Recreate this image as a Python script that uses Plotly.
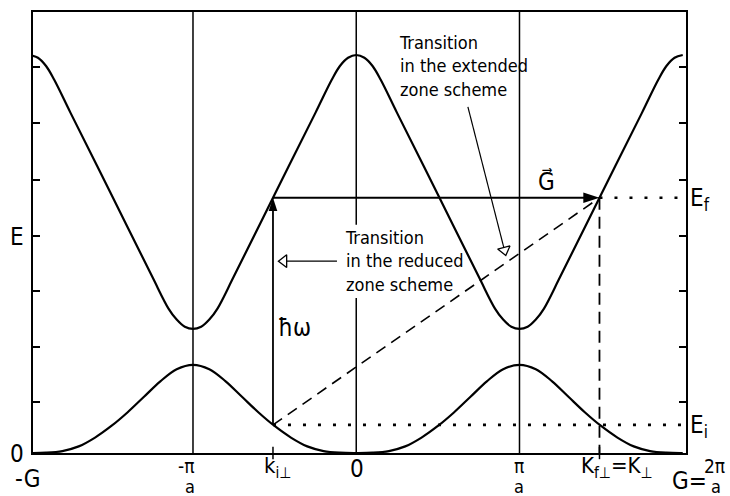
import plotly.graph_objects as go

FONT = "DejaVu Sans Condensed, DejaVu Sans, sans-serif"
INK = "black"

# Axis ranges: wave vector in units of pi/a, energy in arbitrary units
K_MIN, K_MAX = -1.98, 2.02
E_MIN, E_MAX = 0.0, 8.0

# Upper band E(k), extended zone scheme
K_UPPER = [-2.0, -1.95, -1.9, -1.85, -1.75, -1.5, -1.25, -1.15, -1.1, -1.05, -1.0,
           -0.95, -0.9, -0.85, -0.75, -0.5, -0.25, -0.15, -0.1, -0.05, 0.0,
           0.05, 0.1, 0.15, 0.25, 0.5, 0.75, 0.85, 0.9, 0.95, 1.0,
           1.05, 1.1, 1.15, 1.25, 1.5, 1.75, 1.85, 1.9, 1.95, 2.0]
E_UPPER = [7.22, 7.17, 7.02, 6.77, 6.17, 4.69, 3.20, 2.62, 2.42, 2.29, 2.25,
           2.29, 2.42, 2.62, 3.20, 4.69, 6.17, 6.77, 7.02, 7.17, 7.22,
           7.17, 7.02, 6.77, 6.17, 4.69, 3.20, 2.62, 2.42, 2.29, 2.25,
           2.29, 2.42, 2.62, 3.20, 4.69, 6.17, 6.77, 7.02, 7.17, 7.22]

# Lower band E(k)
K_LOWER = [-2.0, -1.9, -1.8, -1.7, -1.6, -1.5, -1.4, -1.3, -1.2, -1.1, -1.0,
           -0.9, -0.8, -0.7, -0.6, -0.5, -0.4, -0.3, -0.2, -0.1, 0.0,
           0.1, 0.2, 0.3, 0.4, 0.5, 0.6, 0.7, 0.8, 0.9, 1.0,
           1.1, 1.2, 1.3, 1.4, 1.5, 1.6, 1.7, 1.8, 1.9, 2.0]
E_LOWER = [0.0, 0.005, 0.035, 0.12, 0.28, 0.49, 0.74, 1.02, 1.30, 1.52, 1.60,
           1.52, 1.30, 1.02, 0.74, 0.49, 0.28, 0.12, 0.035, 0.005, 0.0,
           0.005, 0.035, 0.12, 0.28, 0.49, 0.74, 1.02, 1.30, 1.52, 1.60,
           1.52, 1.30, 1.02, 0.74, 0.49, 0.28, 0.12, 0.035, 0.005, 0.0]

# Initial and final states of the transition
K_I, K_F = -0.51, 1.49
E_I, E_F = 0.51, 4.63

# Zone boundaries and centre; the centre line is broken behind the callout text
ZONE_LINES = [-1.0, 0.0, 1.0]
CENTRE_GAP = (2.81, 4.14)

# Energy-axis ticks and labels
E_TICKS = [0.93, 1.93, 2.93, 3.93, 4.95, 5.98, 7.0]
E_LABEL_VALS = [0.0, 3.93]
E_LABEL_TEXT = ["0", "E"]

# Wave-vector labels: main line and optional denominator
K_TICKS = [-1.0, K_I, 0.0, 1.0, K_F, 2.0]
K_TICK_TEXT = ["-π", "k<sub>i⊥</sub>", "0", "π", "K<sub>f⊥</sub>=K<sub>⊥</sub>", "G="]
K_TICK_DENOM = ["a", None, None, "a", None, None]
K_TICK_STYLE = [dict(size=19, dx=-7, dy=-13, ddx=-3), dict(size=22, dx=5, dy=-14),
                dict(size=24, dx=1, dy=-16), dict(size=19, dx=0, dy=-13, ddx=0),
                dict(size=22, dx=18, dy=-14), dict(size=24, dx=7, dy=-28)]
G_FRACTION = ("2π", "a")
LEFT_EDGE_LABEL = "-G"

fig = go.Figure()

# Zone lines
zx, zy = [], []
for z in ZONE_LINES:
    if z == 0.0:
        zx += [z, z, None, z, z, None]
        zy += [E_MIN, CENTRE_GAP[0], None, CENTRE_GAP[1], E_MAX, None]
    else:
        zx += [z, z, None]
        zy += [E_MIN, E_MAX, None]
fig.add_trace(go.Scatter(x=zx, y=zy, mode="lines", line=dict(color=INK, width=1.5),
                         hoverinfo="skip"))

# Bands
fig.add_trace(go.Scatter(x=K_UPPER, y=E_UPPER, mode="lines",
                         line=dict(color=INK, width=2.2, shape="spline", smoothing=1.0)))
fig.add_trace(go.Scatter(x=K_LOWER, y=E_LOWER, mode="lines",
                         line=dict(color=INK, width=2.2, shape="spline", smoothing=1.0)))

# Transition in the extended zone scheme (dashed)
fig.add_trace(go.Scatter(x=[K_I, K_F], y=[E_I, E_F], mode="lines",
                         line=dict(color=INK, width=1.6, dash="11px,7px")))
fig.add_trace(go.Scatter(x=[K_F, K_F], y=[E_F, E_MIN], mode="lines",
                         line=dict(color=INK, width=1.8, dash="12px,7px")))

# Energy levels (dotted)
for k0, e0 in [(K_F, E_F), (K_I, E_I)]:
    fig.add_trace(go.Scatter(x=[k0, K_MAX], y=[e0, e0], mode="lines",
                             line=dict(color=INK, width=2.6, dash="3px,12px")))

# Photon energy (vertical) and reciprocal lattice vector (horizontal) arrows
fig.add_trace(go.Scatter(x=[K_I, K_I], y=[E_I, E_F - 0.1], mode="lines",
                         line=dict(color=INK, width=1.8)))
fig.add_trace(go.Scatter(x=[K_I, K_F - 0.05], y=[E_F, E_F], mode="lines",
                         line=dict(color=INK, width=2.0)))
fig.add_trace(go.Scatter(x=[K_I], y=[E_F], mode="markers",
                         marker=dict(symbol="arrow", size=14, angle=0, color=INK,
                                     line=dict(width=0))))
fig.add_trace(go.Scatter(x=[K_F], y=[E_F], mode="markers",
                         marker=dict(symbol="arrow", size=17, angle=90, color=INK,
                                     line=dict(width=0))))

# Callout pointers with open heads
fig.add_trace(go.Scatter(x=[-0.118, -0.443], y=[3.48, 3.48], mode="lines",
                         line=dict(color=INK, width=1.2)))
fig.add_trace(go.Scatter(x=[0.684, 0.908], y=[6.28, 3.68], mode="lines",
                         line=dict(color=INK, width=1.2)))
fig.add_trace(go.Scatter(x=[-0.443], y=[3.48], mode="markers",
                         marker=dict(symbol="triangle-left", size=11, color="white",
                                     line=dict(color=INK, width=1.3))))
fig.add_trace(go.Scatter(x=[0.908], y=[3.68], mode="markers",
                         marker=dict(symbol="triangle-down", size=11, color="white", angle=-14,
                                     line=dict(color=INK, width=1.3))))

annotations = []


def label(text, size, **kw):
    base = dict(text=text, showarrow=False, xanchor="center", yanchor="middle",
                font=dict(size=size, family=FONT, color=INK))
    base.update(kw)
    return base


# Wave-vector labels
for kv, txt, den, st in zip(K_TICKS, K_TICK_TEXT, K_TICK_DENOM, K_TICK_STYLE):
    annotations.append(label(txt, st["size"], x=kv, y=0, xref="x", yref="paper",
                             xshift=st["dx"], yshift=st["dy"]))
    if den:
        annotations.append(label(den, 18, x=kv, y=0, xref="x", yref="paper",
                                 xshift=st["ddx"], yshift=-33))
annotations.append(label(G_FRACTION[0], 19, x=2.0, y=0, xref="x", yref="paper",
                         xshift=32, yshift=-13))
annotations.append(label(G_FRACTION[1], 18, x=2.0, y=0, xref="x", yref="paper",
                         xshift=33, yshift=-33))
annotations.append(label(LEFT_EDGE_LABEL, 24, x=0, y=0, xref="paper", yref="paper",
                         xshift=-6, yshift=-26))

# Energy labels on the left
for ev, txt in zip(E_LABEL_VALS, E_LABEL_TEXT):
    annotations.append(label(txt, 24, x=0, y=ev, xref="paper", yref="y",
                             xanchor="right", xshift=-7, yshift=-1))

# Level labels on the right
for e0, txt in [(E_F, "E<sub>f</sub>"), (E_I, "E<sub>i</sub>")]:
    annotations.append(label(txt, 24, x=1, y=e0, xref="paper", yref="y",
                             xanchor="left", xshift=2, yshift=-2))

# Arrow labels
annotations.append(label("ħω", 24, x=K_I, y=(E_I + E_F) / 2, xref="x", yref="y",
                         xanchor="left", xshift=3, yshift=-17))
annotations.append(label("G\u20d7", 24, x=K_F, y=E_F, xref="x", yref="y",
                         xshift=-53, yshift=16))

# Callout texts
annotations.append(label("Transition<br>in the reduced<br>zone scheme", 18, x=-0.08, y=3.48,
                         xref="x", yref="y", xanchor="left", align="left"))
annotations.append(label("Transition<br>in the extended<br>zone scheme", 18, x=0.25, y=7.02,
                         xref="x", yref="y", xanchor="left", align="left"))

# Crossing ticks at the initial and final wave vectors
shapes = [dict(type="line", xref="x", yref="paper", x0=kv, x1=kv, y0=-0.014, y1=0.014,
               line=dict(color=INK, width=1.5)) for kv in (K_I, K_F)]

fig.update_layout(
    template="none",
    width=730, height=496,
    margin=dict(l=33, r=44, t=12, b=43),
    paper_bgcolor="white", plot_bgcolor="white",
    showlegend=False,
    font=dict(family=FONT, color=INK),
    annotations=annotations,
    shapes=shapes,
)
fig.update_xaxes(range=[K_MIN, K_MAX], showgrid=False, zeroline=False, showline=True,
                 linecolor=INK, linewidth=2, mirror=True, ticks="", showticklabels=False,
                 automargin=False)
fig.update_yaxes(range=[E_MIN, E_MAX], showgrid=False, zeroline=False, showline=True,
                 linecolor=INK, linewidth=2, mirror="ticks", ticks="inside", ticklen=7,
                 tickwidth=1.5, tickcolor=INK, tickvals=E_TICKS, showticklabels=False,
                 automargin=False)

fig.write_html("out.html")
